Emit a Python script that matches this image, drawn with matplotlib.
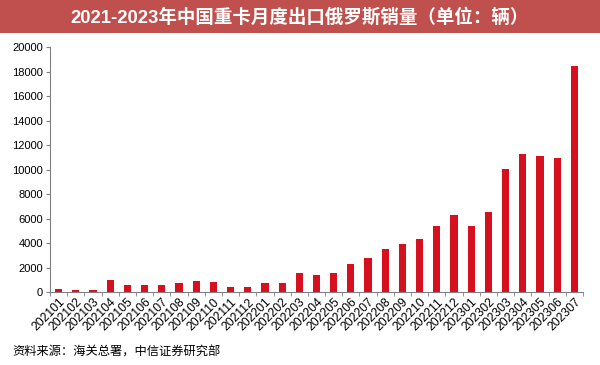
import matplotlib
matplotlib.use("Agg")
import matplotlib.pyplot as plt
from matplotlib.patches import Rectangle
from matplotlib.ticker import FixedLocator

plt.rcParams['font.family'] = ['Liberation Sans', 'Noto Sans CJK SC', 'DejaVu Sans']

months = ['202101', '202102', '202103', '202104', '202105', '202106', '202107', '202108',
          '202109', '202110', '202111', '202112', '202201', '202202', '202203', '202204',
          '202205', '202206', '202207', '202208', '202209', '202210', '202211', '202212',
          '202301', '202302', '202303', '202304', '202305', '202306', '202307']
sales = [260, 190, 200, 950, 600, 600, 550, 700, 900, 780, 380, 400, 750, 700, 1520,
         1360, 1550, 2250, 2800, 3480, 3920, 4330, 5390, 6330, 5410, 6550, 10040,
         11290, 11100, 10940, 18500]
yticks = list(range(0, 20001, 2000))

title = '2021-2023年中国重卡月度出口俄罗斯销量（单位：辆）'
source = '资料来源：海关总署，中信证券研究部'

fig = plt.figure(figsize=(6, 3.65), dpi=100)
fig.patches.append(Rectangle((0, 1 - 33 / 365), 1, 33 / 365, transform=fig.transFigure,
                             facecolor='#C0504D', edgecolor='none', zorder=0))
fig.text(0.5, 1 - 17 / 365, title, ha='center', va='center', color='white',
         fontsize=13.3, fontweight='bold', family=['Liberation Sans', 'Noto Sans CJK SC'])

ax = fig.add_axes([50 / 600, 0.2, 533 / 600, (292 - 47.3) / 365])
x = list(range(len(months)))
ax.bar(x, sales, width=0.42, color='#D7101F', zorder=2)
ax.set_xlim(-0.5, len(months) - 0.5)
ax.set_ylim(0, 20000)
ax.set_yticks(yticks)
ax.set_yticklabels([str(v) for v in yticks], fontsize=8)
ax.set_xticks(x)
ax.set_xticklabels(months, rotation=45, ha='right', rotation_mode='anchor', fontsize=8.7)
ax.tick_params(axis='x', which='major', length=0, pad=3)
ax.xaxis.set_minor_locator(FixedLocator([i + 0.5 for i in range(-1, len(months))]))
ax.tick_params(axis='x', which='minor', length=3, color='#808080', direction='out')
ax.tick_params(axis='y', length=3, color='#808080', direction='out', pad=2)
for s in ['top', 'right']:
    ax.spines[s].set_visible(False)
for s in ['left', 'bottom']:
    ax.spines[s].set_color('#808080')
    ax.spines[s].set_linewidth(0.8)

fig.text(12 / 600, 1 - 352 / 365, source, ha='left', va='center', fontsize=8.8,
         fontweight='medium', family=['Noto Sans CJK SC'])

fig.savefig('out.png', dpi=100)
